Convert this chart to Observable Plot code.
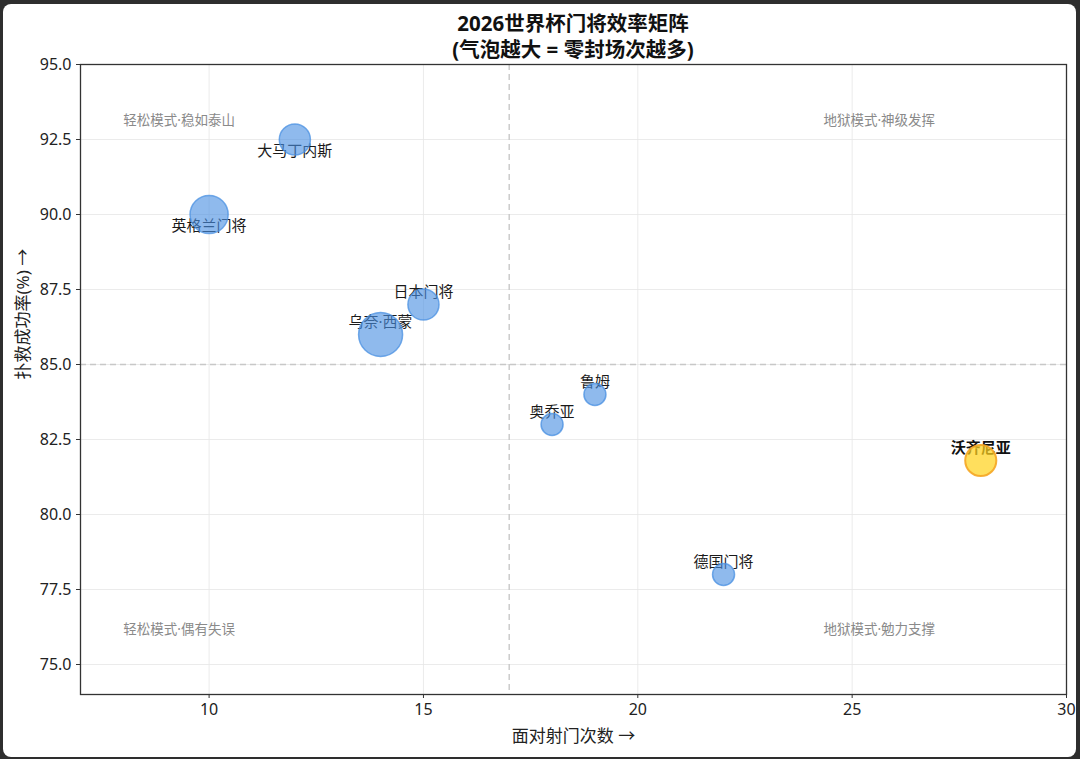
<!DOCTYPE html>
<html>
<head>
<meta charset="utf-8">
<script src="https://cdn.jsdelivr.net/npm/d3@7"></script>
<script src="https://cdn.jsdelivr.net/npm/@observablehq/plot@0.6"></script>
<style>
  html, body { margin: 0; padding: 0; width: 1080px; height: 759px; overflow: hidden; background: #2e2e2e; }
  #card { position: absolute; left: 3px; top: 4px; width: 1073px; height: 753px; background: #fff; border-radius: 8px; }
  .title { position: absolute; left: 80px; width: 986px; text-align: center;
    font-family: "Noto Sans", "Noto Sans CJK SC", sans-serif; font-weight: bold; font-size: 20.5px; line-height: 25px; height: 25px; color: #111; }
  #t1 { top: 11px; }
  #t2 { top: 37px; }
  #chart { position: absolute; left: 0; top: 40px; }
</style>
</head>
<body>
<div id="card"></div>
<div id="t1" class="title">2026世界杯门将效率矩阵</div>
<div id="t2" class="title">(气泡越大 = 零封场次越多)</div>
<div id="chart"></div>
<script>
// Data
const keepers = ["大马丁内斯", "英格兰门将", "日本门将", "乌奈·西蒙", "鲁姆", "奥乔亚", "沃齐尼亚", "德国门将"];
const shotsFaced = [12, 10, 15, 14, 19, 18, 28, 22];
const saveRate = [92.5, 90.0, 87.0, 86.0, 84.0, 83.0, 81.8, 78.0];
const cleanSheets = [2, 3, 2, 4, 1, 1, 2, 1];
const labelBelow = [true, true, false, false, false, false, false, false];
const highlight = "沃齐尼亚";

const xTicks = [10, 15, 20, 25, 30];
const yTicks = [75.0, 77.5, 80.0, 82.5, 85.0, 87.5, 90.0, 92.5, 95.0];
const medianShots = 17;
const medianSave = 85;

const quadrantText = ["轻松模式·稳如泰山", "地狱模式·神级发挥", "轻松模式·偶有失误", "地狱模式·勉力支撑"];
const quadrantX = [8.0, 24.33, 8.0, 24.33];
const quadrantY = [93.13, 93.13, 76.15, 76.15];

const rows = keepers.map((name, i) => ({
  name, x: shotsFaced[i], y: saveRate[i], cs: cleanSheets[i], below: labelBelow[i], hl: name === highlight
}));
const quads = quadrantText.map((t, i) => ({ t, x: quadrantX[i], y: quadrantY[i] }));

const FONT = "Noto Sans, Noto Sans CJK SC, sans-serif";

const chart = Plot.plot({
  width: 1080,
  height: 716,
  marginLeft: 80,
  marginRight: 14,
  marginTop: 24,
  marginBottom: 62,
  style: { fontFamily: FONT, fontSize: "15px", color: "#222", background: "transparent" },
  x: { domain: [7, 30] },
  y: { domain: [74, 95] },
  r: { domain: [0, 4], range: [0, 22] },
  marks: [
    Plot.gridX(xTicks, { stroke: "#e6e6e6", strokeOpacity: 1, strokeWidth: 0.8 }),
    Plot.gridY(yTicks, { stroke: "#e6e6e6", strokeOpacity: 1, strokeWidth: 0.8 }),
    Plot.ruleX([medianShots], { stroke: "#c8c8c8", strokeDasharray: "6,4", strokeWidth: 1.4 }),
    Plot.ruleY([medianSave], { stroke: "#c8c8c8", strokeDasharray: "6,4", strokeWidth: 1.4 }),
    Plot.text(quads, { x: "x", y: "y", text: "t", textAnchor: "start", fill: "#8a8a8a", fontSize: 13.5 }),
    Plot.text(rows, { x: "x", y: "y", text: "name", fontSize: 15, fill: "#1a1a1a",
      filter: d => !d.hl && d.below, dy: 12 }),
    Plot.text(rows, { x: "x", y: "y", text: "name", fontSize: 15, fill: "#1a1a1a",
      filter: d => !d.hl && !d.below, dy: -12 }),
    Plot.text(rows, { x: "x", y: "y", text: "name", fontSize: 15, fontWeight: "bold", fill: "#111",
      filter: d => d.hl, dy: -12 }),
    Plot.dot(rows, { x: "x", y: "y", r: "cs", filter: d => !d.hl, fill: "#4a90e2", fillOpacity: 0.62, stroke: "#4a90e2", strokeOpacity: 0.75, strokeWidth: 1.5 }),
    Plot.dot(rows, { x: "x", y: "y", r: "cs", filter: d => d.hl, fill: "#ffd21f", fillOpacity: 0.72, stroke: "#f5a623", strokeOpacity: 0.9, strokeWidth: 2 }),
    Plot.axisX({ ticks: xTicks, tickSize: 4, tickPadding: 5, fontSize: 16, stroke: "#333", label: null }),
    Plot.axisY({ ticks: yTicks, tickSize: 4, tickFormat: d3.format(".1f"), fontSize: 16, stroke: "#333", label: null }),
    Plot.text(["面对射门次数 →"], { frameAnchor: "bottom", dy: 47, fontSize: 17, fill: "#222" }),
    Plot.text(["扑救成功率(%) →"], { frameAnchor: "left", dx: -57, rotate: -90, fontSize: 17, fill: "#222" }),
    Plot.frame({ stroke: "#333", strokeWidth: 1.3 })
  ]
});
document.getElementById("chart").appendChild(chart);
</script>
</body>
</html>
